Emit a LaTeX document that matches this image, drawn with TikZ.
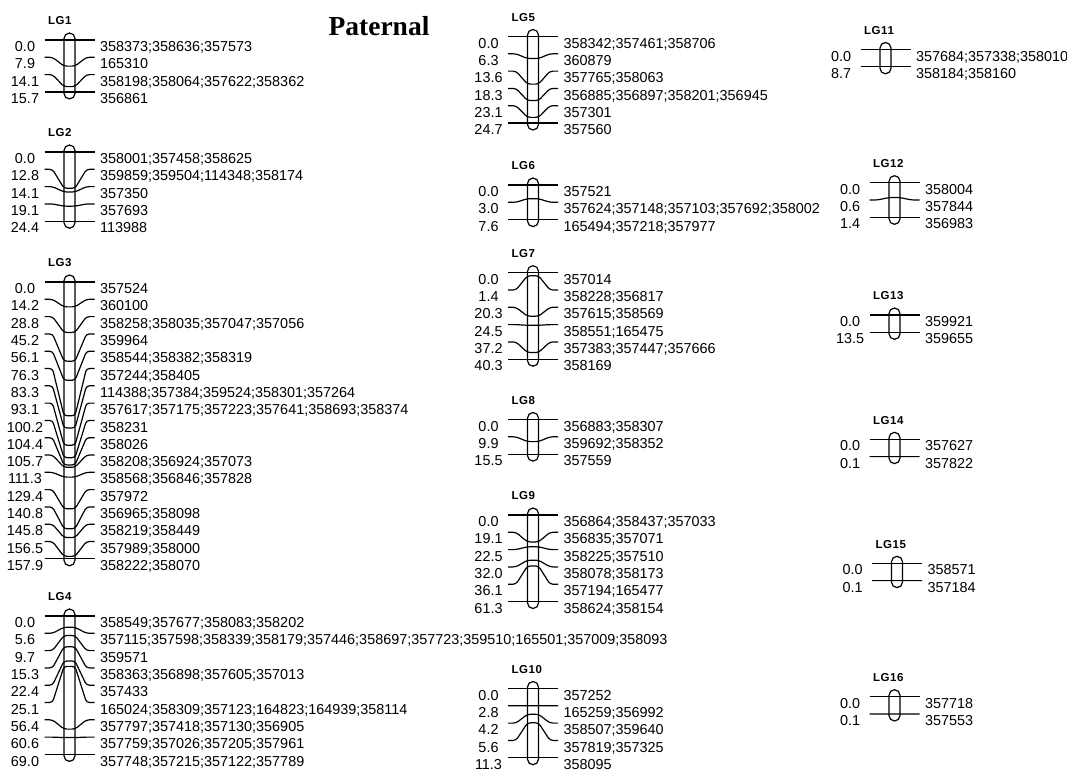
\documentclass[tikz,border=0pt]{standalone}
\usepackage{fontspec}
\setmainfont{Liberation Sans}
\newfontfamily\serifbold{Liberation Serif}
\newfontfamily\lgfont[LetterSpace=5]{Liberation Sans}
\usepackage{tikz}
\usetikzlibrary{positioning,calc}

\newcommand{\mkfont}{\fontsize{14.4}{16}\selectfont}
\def\lgsep{17.3}

% #1 group number, #2 bar x, #3 first row y, #4 map length (cM), #5 rows-1, #6 pos/markers
\newcommand{\linkgroup}[6]{%
  \node[lgtitle] (lg#1) at (#2-22,#3-19) {LG#1};
  \draw[chrom] (#2-5.5,#3-7) rectangle (#2+5.5,#3+#5*\lgsep+7);
  \foreach \p/\m [count=\i from 0] in {#6} {
    \pgfmathsetmacro{\rowy}{#3+\i*\lgsep}
    \pgfmathsetmacro{\chry}{#3+\p/#4*#5*\lgsep}
    \node[cmpos] (lg#1-p\i) at (#2-44.5,\rowy) {\p};
    \node[mk] (lg#1-m\i) at (#2+25,\rowy) {\m};
    \coordinate (lg#1-a\i) at (#2-25,\rowy);
    \coordinate (lg#1-c\i) at (#2,\chry);
    \draw[link] (lg#1-a\i) -- ++(8,0) -- ([xshift=-5.5pt]lg#1-c\i)
      -- ([xshift=5.5pt]lg#1-c\i) -- ([xshift=-8pt]lg#1-m\i.north west)
      -- (lg#1-m\i.north west);
  }
}

\begin{document}
\begin{tikzpicture}[
    x=1pt, y=-1pt, line width=1.2pt,
    lgtitle/.style={anchor=west, inner sep=0pt, font=\lgfont\bfseries\fontsize{11.5}{13}\selectfont},
    cmpos/.style={anchor=north, inner xsep=0pt, inner ysep=1pt, text height=10pt, text depth=0pt, font=\mkfont},
    mk/.style={anchor=north west, inner xsep=5pt, inner ysep=1pt, text height=10pt, text depth=0pt, font=\mkfont},
    chrom/.style={rounded corners=5.5pt, fill=white},
    link/.style={rounded corners=3pt},
  ]
  \fill[white] (0,0) rectangle (1067,771);
  \useasboundingbox (0,0) rectangle (1067,771);

  \node[anchor=base, font=\serifbold\bfseries\fontsize{27.5}{30}\selectfont] (paternal) at (379,35) {Paternal};

  % first column
  \linkgroup{1}{69.5}{40}{15.7}{3}{0.0/358373;358636;357573, 7.9/165310,
    14.1/358198;358064;357622;358362, 15.7/356861}
  \linkgroup{2}{69.5}{152}{24.4}{4}{0.0/358001;357458;358625,
    12.8/359859;359504;114348;358174, 14.1/357350, 19.1/357693, 24.4/113988}
  \linkgroup{3}{69.5}{282}{157.9}{16}{0.0/357524, 14.2/360100,
    28.8/358258;358035;357047;357056, 45.2/359964, 56.1/358544;358382;358319,
    76.3/357244;358405, 83.3/114388;357384;359524;358301;357264,
    93.1/357617;357175;357223;357641;358693;358374, 100.2/358231, 104.4/358026,
    105.7/358208;356924;357073, 111.3/358568;356846;357828, 129.4/357972,
    140.8/356965;358098, 145.8/358219;358449, 156.5/357989;358000,
    157.9/358222;358070}
  \linkgroup{4}{69.5}{616}{69.0}{8}{0.0/358549;357677;358083;358202,
    5.6/357115;357598;358339;358179;357446;358697;357723;359510;165501;357009;358093,
    9.7/359571, 15.3/358363;356898;357605;357013, 22.4/357433,
    25.1/165024;358309;357123;164823;164939;358114, 56.4/357797;357418;357130;356905,
    60.6/357759;357026;357205;357961, 69.0/357748;357215;357122;357789}

  % second column
  \linkgroup{5}{533}{36.5}{24.7}{5}{0.0/358342;357461;358706, 6.3/360879,
    13.6/357765;358063, 18.3/356885;356897;358201;356945, 23.1/357301, 24.7/357560}
  \linkgroup{6}{533}{185}{7.6}{2}{0.0/357521,
    3.0/357624;357148;357103;357692;358002, 7.6/165494;357218;357977}
  \linkgroup{7}{533}{272.7}{40.3}{5}{0.0/357014, 1.4/358228;356817,
    20.3/357615;358569, 24.5/358551;165475, 37.2/357383;357447;357666, 40.3/358169}
  \linkgroup{8}{533}{419.5}{15.5}{2}{0.0/356883;358307, 9.9/359692;358352, 15.5/357559}
  \linkgroup{9}{533}{515}{61.3}{5}{0.0/356864;358437;357033, 19.1/356835;357071,
    22.5/358225;357510, 32.0/358078;358173, 36.1/357194;165477, 61.3/358624;358154}
  \linkgroup{10}{533}{688.5}{11.3}{4}{0.0/357252, 2.8/165259;356992,
    4.2/358507;359640, 5.6/357819;357325, 11.3/358095}

  % third column
  \linkgroup{11}{885.5}{49.5}{8.7}{1}{0.0/357684;357338;358010, 8.7/358184;358160}
  \linkgroup{12}{894.5}{182.7}{1.4}{2}{0.0/358004, 0.6/357844, 1.4/356983}
  \linkgroup{13}{894.5}{315}{13.5}{1}{0.0/359921, 13.5/359655}
  \linkgroup{14}{894.5}{439.3}{0.1}{1}{0.0/357627, 0.1/357822}
  \linkgroup{15}{897}{563.3}{0.1}{1}{0.0/358571, 0.1/357184}
  \linkgroup{16}{894.5}{696.7}{0.1}{1}{0.0/357718, 0.1/357553}
\end{tikzpicture}
\end{document}
